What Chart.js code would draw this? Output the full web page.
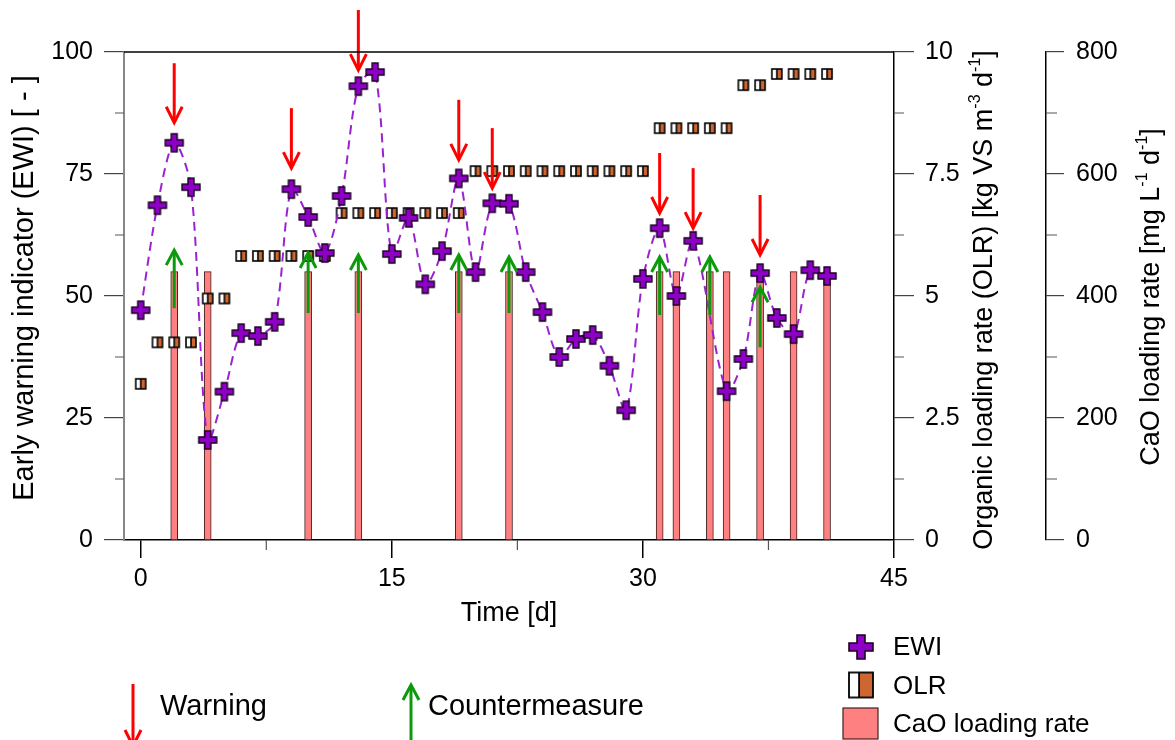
<!DOCTYPE html>
<html>
<head>
<meta charset="utf-8">
<script src="https://cdn.jsdelivr.net/npm/chart.js@4.4.1/dist/chart.umd.min.js"></script>
<style>
  html, body { margin: 0; padding: 0; background: #fff; }
  #wrap { width: 1175px; height: 740px; }
</style>
</head>
<body>
<div id="wrap"><canvas id="chart" width="1175" height="740"></canvas></div>
<script>
// ---- data ----
const ewiDays   = [0, 1, 2, 3, 4, 5, 6, 7, 8, 9, 10, 11, 12, 13, 14, 15, 16, 17, 18, 19, 20,
                   21, 22, 23, 24, 25, 26, 27, 28, 29, 30, 31, 32, 33, 35, 36, 37, 38, 39, 40, 41];
const ewiValues = [47.1, 68.6, 81.4, 72.3, 20.5, 30.4, 42.4, 41.8, 44.7, 71.9, 66.2, 58.8, 70.5, 93.0,
                   95.9, 58.6, 66.0, 52.4, 59.2, 74.1, 54.9, 69.0, 68.9, 54.9, 46.7, 37.5, 41.2, 42.0,
                   35.7, 26.6, 53.5, 63.9, 50.0, 61.3, 30.5, 37.1, 54.7, 45.5, 42.2, 55.3, 54.1];

const olrDays   = [0, 1, 2, 3, 4, 5, 6, 7, 8, 9, 10, 11, 12, 13, 14, 15, 16, 17, 18, 19, 20,
                   21, 22, 23, 24, 25, 26, 27, 28, 29, 30, 31, 32, 33, 34, 35, 36, 37, 38, 39, 40, 41];
const olrValues = [3.2, 4.05, 4.05, 4.05, 4.95, 4.95, 5.82, 5.82, 5.82, 5.82, 5.82, 5.82,
                   6.7, 6.7, 6.7, 6.7, 6.7, 6.7, 6.7, 6.7,
                   7.56, 7.56, 7.56, 7.56, 7.56, 7.56, 7.56, 7.56, 7.56, 7.56, 7.56,
                   8.44, 8.44, 8.44, 8.44, 8.44, 9.32, 9.32, 9.55, 9.55, 9.55, 9.55];

const caoDays   = [2, 4, 10, 13, 19, 22, 31, 32, 34, 35, 37, 39, 41];
const caoValues = [440, 440, 440, 440, 440, 440, 440, 440, 440, 440, 440, 440, 440];

// warnings: arrow from warningFrom down to warningTo (EWI units)
const warningDays = [2, 9, 13, 19, 21, 31, 33, 37];
const warningFrom = [97.7, 88.5, 108.6, 90.2, 84.4, 79.3, 76.2, 70.7];
const warningTo   = [85.5, 76.2, 96.3, 77.9, 72.1, 67.0, 63.9, 58.4];

// countermeasures: arrow from counterFrom up to counterTo (EWI units)
const counterDays = [2, 10, 13, 19, 22, 31, 34, 37];
const counterFrom = [47.5, 46.5, 46.5, 46.5, 46.5, 46.1, 46.1, 39.5];
const counterTo   = [59.4, 58.8, 58.4, 58.4, 58.0, 58.0, 58.0, 51.8];

const dayTicks = [0, 15, 30, 45];
const dayMinor = [7.5, 22.5, 37.5];
const ewiTicks = [0, 25, 50, 75, 100];
const ewiMinor = [12.5, 37.5, 62.5, 87.5];
const olrTicks = [0, 2.5, 5, 7.5, 10];
const olrMinor = [1.25, 3.75, 6.25, 8.75];
const caoTicks = [0, 200, 400, 600, 800];
const caoMinor = [100, 300, 500, 700];

// ---- styling ----
const FONT = "'Liberation Sans', Arial, Helvetica, sans-serif";
const PURPLE = '#8e00c6';
const LINE_PURPLE = '#9a22d0';
const ORANGE = '#cd6630';
const SALMON = '#ff8080';
const RED = '#ff0000';
const GREEN = '#0a9a0a';

function crossMarker(size, arm, lw) {
  const pad = 3;
  const c = document.createElement('canvas');
  c.width = c.height = size + pad * 2;
  const g = c.getContext('2d');
  const m = c.width / 2, h = size / 2, a = arm / 2;
  g.beginPath();
  g.moveTo(m - a, m - h); g.lineTo(m + a, m - h); g.lineTo(m + a, m - a);
  g.lineTo(m + h, m - a); g.lineTo(m + h, m + a); g.lineTo(m + a, m + a);
  g.lineTo(m + a, m + h); g.lineTo(m - a, m + h); g.lineTo(m - a, m + a);
  g.lineTo(m - h, m + a); g.lineTo(m - h, m - a); g.lineTo(m - a, m - a);
  g.closePath();
  g.fillStyle = PURPLE; g.fill();
  g.lineWidth = lw; g.strokeStyle = '#1a0020'; g.lineJoin = 'miter'; g.stroke();
  return c;
}

function olrMarker(w, h, split, lw) {
  const pad = 2;
  const c = document.createElement('canvas');
  c.width = w + pad * 2; c.height = h + pad * 2;
  const g = c.getContext('2d');
  g.fillStyle = ORANGE; g.fillRect(pad, pad, w, h);
  g.fillStyle = '#ffffff'; g.fillRect(pad, pad, w * split, h);
  g.strokeStyle = '#000'; g.lineWidth = lw;
  g.beginPath(); g.moveTo(pad + w * split, pad); g.lineTo(pad + w * split, pad + h); g.stroke();
  g.strokeRect(pad, pad, w, h);
  return c;
}

const crossPoint = crossMarker(18, 6, 1.4);
const squarePoint = olrMarker(10, 10, 0.5, 1.6);
const crossLegend = crossMarker(24, 8, 1.6);
const squareLegend = olrMarker(24, 25, 0.42, 1.8);

function arrow(ctx, x, y0, y1, color, lw, headW, headL) {
  const dir = Math.sign(y1 - y0);
  ctx.save();
  ctx.strokeStyle = color; ctx.lineWidth = lw; ctx.lineCap = 'butt'; ctx.lineJoin = 'miter';
  ctx.beginPath(); ctx.moveTo(x, y0); ctx.lineTo(x, y1 - dir * 1); ctx.stroke();
  ctx.beginPath();
  ctx.moveTo(x - headW, y1 - dir * headL); ctx.lineTo(x, y1); ctx.lineTo(x + headW, y1 - dir * headL);
  ctx.stroke();
  ctx.restore();
}

function rotatedTitle(ctx, parts, cx, cy, size) {
  ctx.save();
  ctx.translate(cx, cy);
  ctx.rotate(-Math.PI / 2);
  ctx.fillStyle = '#000';
  ctx.textBaseline = 'middle';
  ctx.textAlign = 'left';
  const supSize = Math.round(size * 0.6);
  let total = 0;
  parts.forEach(p => {
    ctx.font = (p.sup ? supSize : size) + 'px ' + FONT;
    p.w = ctx.measureText(p.t).width;
    total += p.w;
  });
  let x = -total / 2;
  parts.forEach(p => {
    ctx.font = (p.sup ? supSize : size) + 'px ' + FONT;
    ctx.fillText(p.t, x, p.sup ? -size * 0.36 : 0);
    x += p.w;
  });
  ctx.restore();
}

const decor = {
  id: 'decor',
  afterDatasetsDraw(chart) {
    const { ctx, scales: { x, y } } = chart;
    counterDays.forEach((d, i) => {
      arrow(ctx, x.getPixelForValue(d), y.getPixelForValue(counterFrom[i]),
            y.getPixelForValue(counterTo[i]), GREEN, 3, 8, 15);
    });
    warningDays.forEach((d, i) => {
      arrow(ctx, x.getPixelForValue(d), y.getPixelForValue(warningFrom[i]),
            y.getPixelForValue(warningTo[i]), RED, 3, 8, 16);
    });
  },
  afterDraw(chart) {
    const { ctx, chartArea: area, scales: { x, y, olr, cao } } = chart;
    ctx.save();
    // top frame
    ctx.strokeStyle = '#000'; ctx.lineWidth = 1.5;
    ctx.beginPath(); ctx.moveTo(area.left, area.top); ctx.lineTo(area.right, area.top); ctx.stroke();
    // minor ticks
    ctx.lineWidth = 1.2; ctx.strokeStyle = '#555';
    ctx.beginPath();
    dayMinor.forEach(v => { const px = x.getPixelForValue(v); ctx.moveTo(px, area.bottom); ctx.lineTo(px, area.bottom + 10); });
    ewiMinor.forEach(v => { const py = y.getPixelForValue(v); ctx.moveTo(area.left - 9, py); ctx.lineTo(area.left, py); });
    olrMinor.forEach(v => { const py = olr.getPixelForValue(v); ctx.moveTo(olr.left, py); ctx.lineTo(olr.left + 10, py); });
    caoMinor.forEach(v => { const py = cao.getPixelForValue(v); ctx.moveTo(cao.left, py); ctx.lineTo(cao.left + 11, py); });
    ctx.stroke();

    // axis titles
    ctx.fillStyle = '#000';
    ctx.font = '27px ' + FONT;
    ctx.textAlign = 'center'; ctx.textBaseline = 'middle';
    ctx.fillText('Time [d]', (area.left + area.right) / 2, 614);
    rotatedTitle(ctx, [{ t: 'Early warning indicator (EWI) [ - ]' }], 25, 288, 29);
    rotatedTitle(ctx, [{ t: 'Organic loading rate (OLR) [kg VS m' }, { t: '-3', sup: true },
                       { t: ' d' }, { t: '-1', sup: true }, { t: ']' }], 985, 300, 27);
    rotatedTitle(ctx, [{ t: 'CaO loading rate [mg L' }, { t: '-1', sup: true },
                       { t: ' d' }, { t: '-1', sup: true }, { t: ']' }], 1152, 297, 27);

    // series key
    ctx.drawImage(crossLegend, 861 - crossLegend.width / 2, 647 - crossLegend.height / 2);
    ctx.drawImage(squareLegend, 861 - squareLegend.width / 2, 685 - squareLegend.height / 2);
    ctx.fillStyle = SALMON; ctx.fillRect(843, 708, 35, 31);
    ctx.strokeStyle = '#402020'; ctx.lineWidth = 1.2; ctx.strokeRect(843, 708, 35, 31);
    ctx.fillStyle = '#000';
    ctx.font = '26px ' + FONT; ctx.textAlign = 'left'; ctx.textBaseline = 'middle';
    ctx.fillText('EWI', 893, 648);
    ctx.fillText('OLR', 893, 687);
    ctx.fillText('CaO loading rate', 893, 725);

    // event key
    arrow(ctx, 133, 684, 746, RED, 3, 8, 16);
    arrow(ctx, 411, 745, 685, GREEN, 3, 8, 15);
    ctx.fillStyle = '#000';
    ctx.font = '29px ' + FONT;
    ctx.fillText('Warning', 160, 707);
    ctx.fillText('Countermeasure', 428, 707);
    ctx.restore();
  }
};

const tickFont = { family: FONT, size: 25 };

function fixedTicks(values) {
  return scale => { scale.ticks = values.map(v => ({ value: v })); };
}

new Chart(document.getElementById('chart'), {
  type: 'line',
  data: {
    datasets: [
      {
        label: 'EWI',
        type: 'line',
        data: ewiDays.map((d, i) => ({ x: d, y: ewiValues[i] })),
        yAxisID: 'y',
        borderColor: LINE_PURPLE,
        borderWidth: 2,
        borderDash: [9, 6],
        tension: 0.3,
        fill: false,
        pointStyle: crossPoint,
        pointRadius: 8,
        order: 0
      },
      {
        label: 'OLR',
        type: 'line',
        data: olrDays.map((d, i) => ({ x: d, y: olrValues[i] })),
        yAxisID: 'olr',
        showLine: false,
        pointStyle: squarePoint,
        pointRadius: 6,
        order: 1
      },
      {
        label: 'CaO loading rate',
        type: 'bar',
        data: caoDays.map((d, i) => ({ x: d, y: caoValues[i] })),
        yAxisID: 'cao',
        backgroundColor: SALMON,
        borderColor: '#402020',
        borderWidth: 1,
        barThickness: 7,
        order: 2
      }
    ]
  },
  options: {
    responsive: false,
    animation: false,
    devicePixelRatio: 1,
    layout: { padding: { top: 52, bottom: 120, left: 0, right: 0 } },
    plugins: { legend: { display: false }, tooltip: { enabled: false } },
    scales: {
      x: {
        type: 'linear', position: 'bottom', min: -1, max: 45, offset: false,
        afterBuildTicks: fixedTicks(dayTicks),
        afterFit: s => { s.height = 80; },
        grid: { offset: false, drawOnChartArea: false, drawTicks: true, tickLength: 18, color: '#000', lineWidth: 1.5 },
        border: { display: true, color: '#000', width: 1.5 },
        ticks: { font: tickFont, color: '#000', padding: 6, maxRotation: 0, autoSkip: false,
                 callback: v => String(v) }
      },
      y: {
        type: 'linear', position: 'left', min: 0, max: 100,
        afterBuildTicks: fixedTicks(ewiTicks),
        afterFit: s => { s.width = 124; },
        grid: { drawOnChartArea: false, drawTicks: true, tickLength: 20, color: '#444', lineWidth: 1.2 },
        border: { display: true, color: '#888', width: 2 },
        ticks: { font: tickFont, color: '#000', padding: 11, callback: v => String(v) }
      },
      olr: {
        type: 'linear', position: 'right', min: 0, max: 10,
        afterBuildTicks: fixedTicks(olrTicks),
        afterFit: s => { s.width = 152; },
        grid: { drawOnChartArea: false, drawTicks: true, tickLength: 20, color: '#444', lineWidth: 1.2 },
        border: { display: true, color: '#000', width: 1.5 },
        ticks: { font: tickFont, color: '#000', padding: 11, callback: v => String(v) }
      },
      cao: {
        type: 'linear', position: 'right', min: 0, max: 800,
        afterBuildTicks: fixedTicks(caoTicks),
        afterFit: s => { s.width = 129; },
        grid: { drawOnChartArea: false, drawTicks: true, tickLength: 18, color: '#444', lineWidth: 1.2 },
        border: { display: true, color: '#000', width: 1.5 },
        ticks: { font: tickFont, color: '#000', padding: 12, callback: v => String(v) }
      }
    }
  },
  plugins: [decor]
});
</script>
</body>
</html>
